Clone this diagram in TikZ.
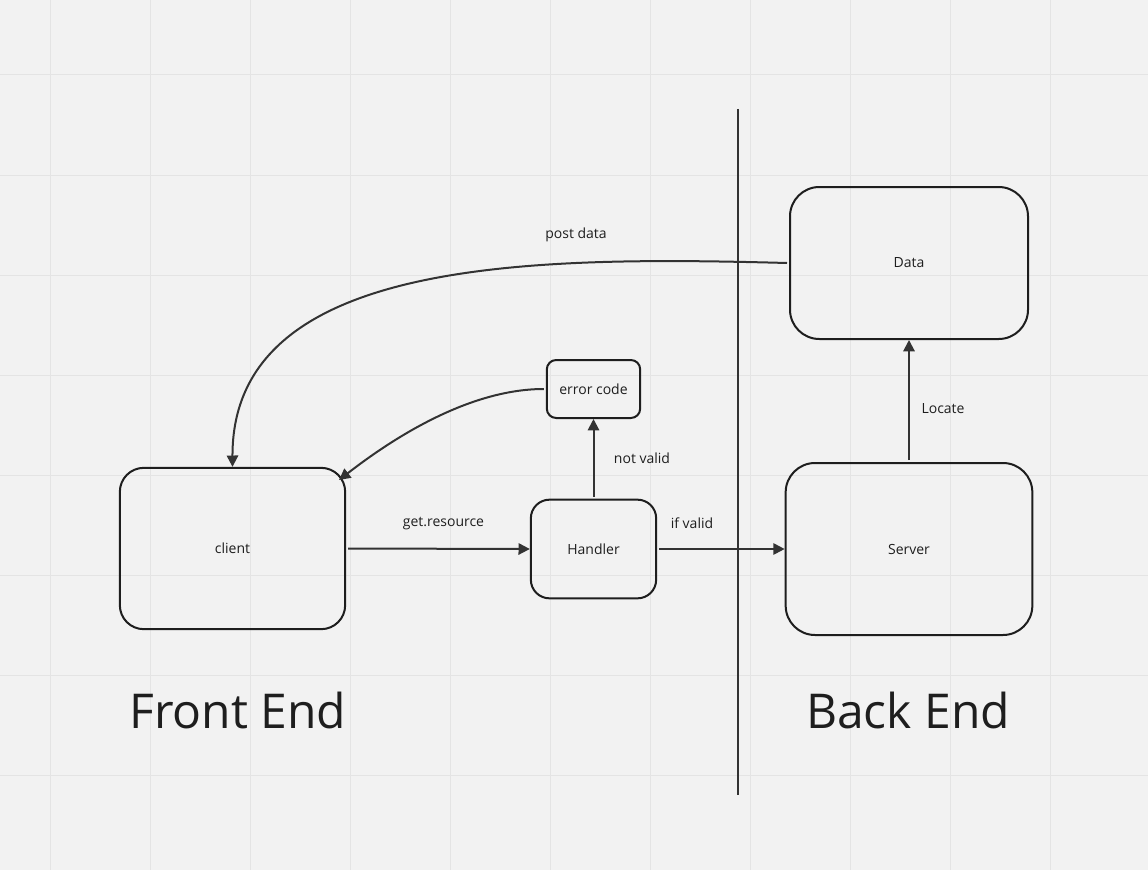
\documentclass[tikz,border=0pt]{standalone}
\usepackage{fontspec}
\setmainfont{Open Sans}
\usetikzlibrary{arrows.meta}
\definecolor{bg}{HTML}{F2F2F2}
\definecolor{gridc}{HTML}{E4E4E4}
\definecolor{edgec}{HTML}{333333}
\definecolor{boxc}{HTML}{1E1E1E}
\begin{document}
\begin{tikzpicture}[x=0.75pt,y=-0.75pt,
  box/.style={draw=boxc,line width=1.5pt,rounded corners=#1,inner sep=0pt,font=\fontsize{10.5}{12}\selectfont,text=boxc},
  conn/.style={draw=edgec,line width=1.5pt,-{Triangle[length=8.5pt,width=8.5pt]}},
  lbl/.style={font=\fontsize{10.5}{12}\selectfont,text=boxc,inner sep=0pt},
  big/.style={font=\fontsize{36}{40}\selectfont,text=boxc,inner sep=0pt}]
\fill[bg] (0,0) rectangle (1148,870);
\useasboundingbox (0,0) rectangle (1148,870);
\foreach \x in {50,150,...,1050} \draw[gridc,line width=0.75pt] (\x,0) -- (\x,870);
\foreach \y in {75,175,...,775} \draw[gridc,line width=0.75pt] (0,\y) -- (1148,\y);
% divider
\coordinate (divtop) at (737.5,109);
\coordinate (divbot) at (737.5,795);
\draw[edgec,line width=1.5pt] (divtop) -- (divbot);
% nodes
\node[box=18pt,minimum width=169pt,minimum height=121pt] (client) at (232.5,548.5) {client};
\node[box=14pt,minimum width=94pt,minimum height=74pt] (handler) at (593.5,549) {Handler};
\node[box=7pt,minimum width=70pt,minimum height=43.5pt] (err) at (593.5,389) {error code};
\node[box=22pt,minimum width=178.5pt,minimum height=114pt] (data) at (909,263) {Data};
\node[box=22pt,minimum width=185pt,minimum height=129pt] (server) at (909,549) {Server};
% edges
\draw[conn] ([xshift=1.5pt]client.east) -- (handler.west);
\node[lbl] (l1) at (443.5,523.5) {get.resource};
\draw[conn] ([xshift=1.5pt]handler.east) -- (server.west);
\node[lbl] (l2) at (692,523.5) {if valid};
\draw[conn] ([yshift=1.5pt]handler.north) -- (err.south);
\node[lbl] (l3) at (642,458.5) {not valid};
\draw[conn] ([yshift=1.5pt]server.north) -- (data.south);
\node[lbl] (l4) at (943,408.5) {Locate};
\coordinate (clientne) at (339,480);
\draw[conn] ([xshift=-1.5pt]err.west) .. controls (480,389) and (410,425) .. (clientne);
\draw[conn] ([xshift=-1.5pt]data.west) .. controls (530,256) and (232,258) .. (client.north);
\node[lbl] (l5) at (576,235) {post data};
% titles
\node[big] (fe) at (238,710) {Front End};
\node[big] (be) at (908,710) {Back End};
\end{tikzpicture}
\end{document}
